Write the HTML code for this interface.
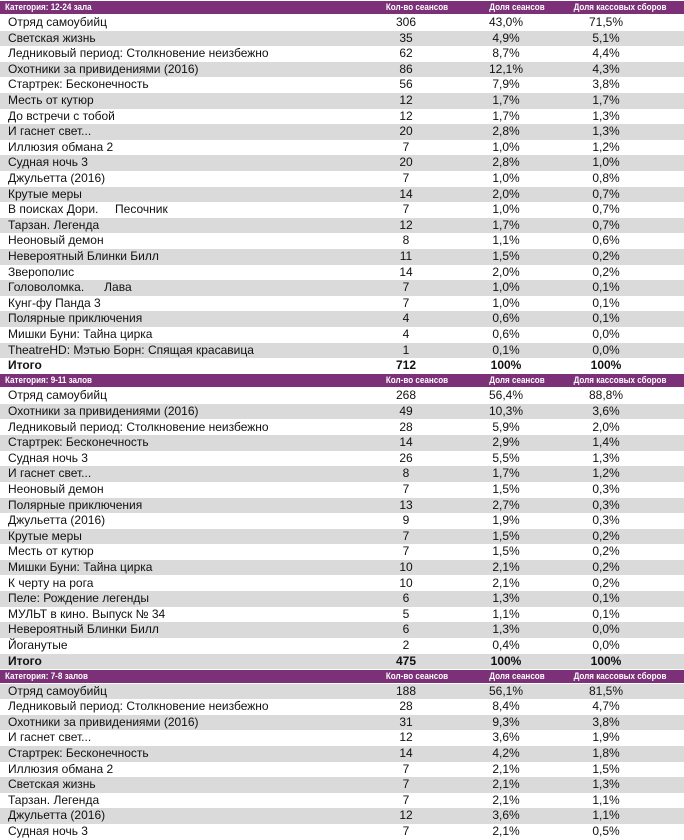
<!DOCTYPE html>
<html><head><meta charset="utf-8">
<style>
body{margin:0;width:684px;height:840px;overflow:hidden;background:#fff;font-family:"Liberation Sans",sans-serif;}
#t{position:relative;width:684px;height:840px;}
.r{position:absolute;left:0;width:684px;height:15.6px;font-size:12px;line-height:15.6px;color:#111;}
.g{background:#dadada;}
.h{background:#7b3078;color:#fff;font-weight:bold;font-size:9.5px;height:13px;line-height:13px;}
.b{font-weight:bold;}
.c{position:absolute;top:0;white-space:pre;}
.n{left:8px;}
.h .n{left:5px;transform-origin:left;transform:scaleX(0.85);}
.v{transform:translateX(-50%);}
.h .v{transform:translateX(-50%) scaleX(0.85);}
</style></head><body>
<div id="t"></div>
<script>
const sections=[
{title:"Категория: 12-24 зала",startGrey:false,rows:[
["Отряд самоубийц","306","43,0%","71,5%"],["Светская жизнь","35","4,9%","5,1%"],["Ледниковый период: Столкновение неизбежно","62","8,7%","4,4%"],["Охотники за привидениями (2016)","86","12,1%","4,3%"],["Стартрек: Бесконечность","56","7,9%","3,8%"],["Месть от кутюр","12","1,7%","1,7%"],["До встречи с тобой","12","1,7%","1,3%"],["И гаснет свет...","20","2,8%","1,3%"],["Иллюзия обмана 2","7","1,0%","1,2%"],["Судная ночь 3","20","2,8%","1,0%"],["Джульетта (2016)","7","1,0%","0,8%"],["Крутые меры","14","2,0%","0,7%"],["В поисках Дори.     Песочник","7","1,0%","0,7%"],["Тарзан. Легенда","12","1,7%","0,7%"],["Неоновый демон","8","1,1%","0,6%"],["Невероятный Блинки Билл","11","1,5%","0,2%"],["Зверополис","14","2,0%","0,2%"],["Головоломка.      Лава","7","1,0%","0,1%"],["Кунг-фу Панда 3","7","1,0%","0,1%"],["Полярные приключения","4","0,6%","0,1%"],["Мишки Буни: Тайна цирка","4","0,6%","0,0%"],["TheatreHD: Мэтью Борн: Спящая красавица","1","0,1%","0,0%"]],total:["Итого","712","100%","100%"]},
{title:"Категория: 9-11 залов",startGrey:false,rows:[
["Отряд самоубийц","268","56,4%","88,8%"],["Охотники за привидениями (2016)","49","10,3%","3,6%"],["Ледниковый период: Столкновение неизбежно","28","5,9%","2,0%"],["Стартрек: Бесконечность","14","2,9%","1,4%"],["Судная ночь 3","26","5,5%","1,3%"],["И гаснет свет...","8","1,7%","1,2%"],["Неоновый демон","7","1,5%","0,3%"],["Полярные приключения","13","2,7%","0,3%"],["Джульетта (2016)","9","1,9%","0,3%"],["Крутые меры","7","1,5%","0,2%"],["Месть от кутюр","7","1,5%","0,2%"],["Мишки Буни: Тайна цирка","10","2,1%","0,2%"],["К черту на рога","10","2,1%","0,2%"],["Пеле: Рождение легенды","6","1,3%","0,1%"],["МУЛЬТ в кино. Выпуск № 34","5","1,1%","0,1%"],["Невероятный Блинки Билл","6","1,3%","0,0%"],["Йоганутые","2","0,4%","0,0%"]],total:["Итого","475","100%","100%"]},
{title:"Категория: 7-8 залов",startGrey:true,rows:[
["Отряд самоубийц","188","56,1%","81,5%"],["Ледниковый период: Столкновение неизбежно","28","8,4%","4,7%"],["Охотники за привидениями (2016)","31","9,3%","3,8%"],["И гаснет свет...","12","3,6%","1,9%"],["Стартрек: Бесконечность","14","4,2%","1,8%"],["Иллюзия обмана 2","7","2,1%","1,5%"],["Светская жизнь","7","2,1%","1,3%"],["Тарзан. Легенда","7","2,1%","1,1%"],["Джульетта (2016)","12","3,6%","1,1%"],["Судная ночь 3","7","2,1%","0,5%"]],total:null}
];
const headers=["Кол-во сеансов","Доля сеансов","Доля кассовых сборов"];
const t=document.getElementById('t');
const RH=15.6, HH=13;
let y=1;
function cell(row,text,x,cls){
  const d=document.createElement('div');
  d.className='c '+cls;
  if(x!==null) d.style.left=x+'px';
  d.textContent=text;
  row.appendChild(d);
  return d;
}
sections.forEach((s,si)=>{
  const h=document.createElement('div');
  h.className='r h';h.style.top=y+'px';
  
  
  cell(h,s.title,null,'n');
  [417,517,620].forEach((x,i)=>{const c=cell(h,headers[i],x,'v');
    
    });
  t.appendChild(h);
  y+=HH+1;
  const all=s.rows.slice(); if(s.total) all.push(s.total);
  all.forEach((r,i)=>{
    const row=document.createElement('div');
    const grey=(i%2===1)!==s.startGrey;
    row.className='r'+(grey?' g':'')+(s.total&&i===all.length-1?' b':'');
    row.style.top=y+'px';
    
    
    cell(row,r[0],null,'n');
    cell(row,r[1],406,'v');
    cell(row,r[2],506,'v');
    cell(row,r[3],606,'v');
    t.appendChild(row);
    y+=RH;
  });
  y+=0.5;
});
</script>
</body></html>
